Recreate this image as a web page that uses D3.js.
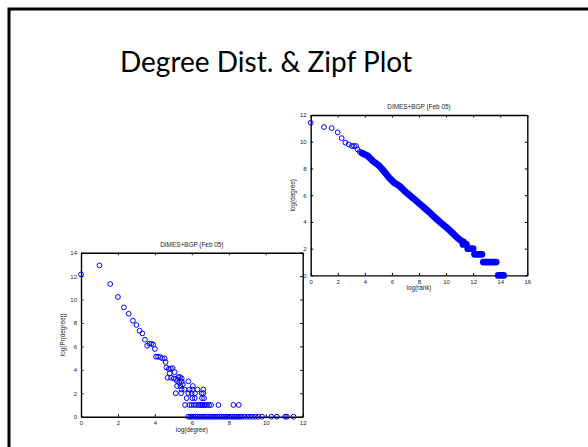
<!DOCTYPE html>
<meta charset="utf-8">
<title>Degree Dist. &amp; Zipf Plot</title>
<style>
  body { margin: 0; background: #fff; }
  .tick text, .lab { font-family: Arial, "Liberation Sans", sans-serif; fill: #222; }
</style>
<div id="viz"></div>
<script src="https://cdnjs.cloudflare.com/ajax/libs/d3/7.8.5/d3.min.js"></script>
<script>

var width = 588;
var height = 447;

// left plot: degree distribution (log values)
var degX = [0, 1.0, 1.58, 2.0, 2.32, 2.58, 2.81, 3.0, 3.17, 3.32, 3.46, 3.58, 3.70, 3.81, 3.91, 4.0,
  4.06, 4.17, 4.30, 4.40, 4.53, 4.58, 4.62, 4.75, 4.86, 4.96, 4.80, 5.07,
  4.69, 4.87, 5.02, 5.14, 5.27, 5.36, 5.45, 5.20, 5.32, 5.45, 5.20, 5.38, 5.51, 5.81, 6.05,
  5.45, 5.60, 5.87, 6.03, 6.30, 6.62,
  5.13, 5.42, 5.81, 5.99, 6.17, 6.53, 6.62,
  5.72, 6.03, 6.16, 6.55, 6.66,
  5.63, 5.87, 5.99, 6.12, 6.22, 6.35, 6.44, 6.52, 6.59, 6.67, 6.71, 6.81, 6.93, 7.04, 7.44, 8.25, 8.54,
  5.8, 5.92, 6.0, 6.1, 6.2, 6.3, 6.4, 6.5, 6.6, 6.7, 6.8, 6.9, 7.0, 7.1, 7.2, 7.3, 7.4, 7.5,
  7.6, 7.7, 7.8, 7.9, 8.0, 8.1, 8.2, 8.3, 8.4, 8.5, 8.6, 8.7, 8.85, 9.0, 9.15, 9.3, 9.45,
  9.6, 9.8, 10.3, 10.6, 11.05, 11.15, 11.5];
var degY = [12.15, 12.92, 11.33, 10.22, 9.33, 8.79, 8.2, 7.83, 7.34, 7.11, 6.57, 6.06, 6.23, 6.23, 6.15, 5.78,
  5.12, 5.12, 5.09, 4.98, 4.98, 4.67, 4.21, 4.07, 4.10, 4.15, 3.70, 3.81,
  3.33, 3.33, 3.27, 3.22, 3.39, 3.39, 3.27, 3.05, 2.90, 2.99, 2.62, 2.62, 2.76, 3.02, 2.62,
  2.32, 2.32, 2.32, 2.32, 2.32, 2.32,
  2.0, 2.0, 2.0, 2.0, 2.0, 2.0, 2.0,
  1.58, 1.58, 1.58, 1.58, 1.58,
  1, 1, 1, 1, 1, 1, 1, 1, 1, 1, 1, 1, 1, 1, 1, 1, 1,
  0, 0, 0, 0, 0, 0, 0, 0, 0, 0, 0, 0, 0, 0, 0, 0, 0, 0,
  0, 0, 0, 0, 0, 0, 0, 0, 0, 0, 0, 0, 0, 0, 0, 0, 0,
  0, 0, 0, 0, 0, 0, 0];

// right plot: zipf plot, sparse head
var rankX = [0, 0.98, 1.55, 1.99, 2.29, 2.56, 2.81, 3.05, 3.2, 3.35, 3.47, 3.62, 3.75, 3.85, 3.95];
var rankY = [11.42, 11.1, 11.02, 10.7, 10.27, 9.93, 9.8, 9.68, 9.68, 9.68, 9.42, 9.25, 9.15, 9.12, 9.1];
// dense run where the markers merge
var bandX = [3.8, 4.0, 4.2, 4.4, 4.6, 4.8, 5.0, 5.2, 5.4, 5.6, 5.8, 6.0, 6.2, 6.4, 6.6, 6.8, 7.0,
  7.3, 7.6, 8.0, 8.4, 8.8, 9.2, 9.6, 10.0, 10.4, 10.8, 11.1, 11.3];
var bandY = [9.15, 9.05, 8.95, 8.75, 8.55, 8.4, 8.25, 8.05, 7.8, 7.55, 7.3, 7.1, 6.9, 6.8, 6.65, 6.45, 6.25,
  6.0, 5.75, 5.4, 5.05, 4.7, 4.3, 3.95, 3.62, 3.25, 2.85, 2.6, 2.5];
// flat runs at the lowest degrees
var stepY = [2.32, 2, 1.58, 1, 0];
var stepFrom = [11.25, 11.6, 12.1, 12.75, 13.85];
var stepTo = [11.5, 12.0, 12.65, 13.7, 14.25];

var degTicksX = [0, 2, 4, 6, 8, 10, 12];
var degTicksY = [0, 2, 4, 6, 8, 10, 12, 14];
var zipfTicksX = [0, 2, 4, 6, 8, 10, 12, 14, 16];
var zipfTicksY = [0, 2, 4, 6, 8, 10, 12];

var blue = "#0000ff";

var svg = d3.select("#viz")
  .append("svg")
  .attr("width", width)
  .attr("height", height);

// slide frame (right and bottom edges are off the picture)
svg.append("path")
  .attr("d", "M9 447 V9 H588")
  .attr("fill", "none")
  .attr("stroke", "#000")
  .attr("stroke-width", 3);

svg.append("text")
  .attr("x", 266)
  .attr("y", 72)
  .attr("text-anchor", "middle")
  .style("font-family", "Lato, 'Open Sans', sans-serif")
  .style("font-size", "28px")
  .text("Degree Dist. & Zipf Plot");

// matlab style box with inward ticks on all sides
function frame(box, xTicks, yTicks, title, xLabel, yLabel) {
  var x = d3.scaleLinear().domain([xTicks[0], xTicks[xTicks.length - 1]]).range([box.x0, box.x1]);
  var y = d3.scaleLinear().domain([yTicks[0], yTicks[yTicks.length - 1]]).range([box.y1, box.y0]);
  var g = svg.append("g");

  var axes = [
    [d3.axisBottom(x).tickValues(xTicks), "translate(0," + box.y1 + ")"],
    [d3.axisTop(x).tickValues(xTicks).tickFormat(""), "translate(0," + box.y0 + ")"],
    [d3.axisLeft(y).tickValues(yTicks), "translate(" + box.x0 + ",0)"],
    [d3.axisRight(y).tickValues(yTicks).tickFormat(""), "translate(" + box.x1 + ",0)"]
  ];
  axes.forEach(function(a) {
    var ax = g.append("g")
      .attr("transform", a[1])
      .call(a[0].tickSize(-2.5).tickSizeOuter(0).tickPadding(4));
    ax.select(".domain").attr("stroke-width", 1.4);
    ax.selectAll(".tick line").attr("stroke-width", 1);
    ax.selectAll(".tick text").style("font-size", "6px");
  });

  g.append("text").attr("class", "lab")
    .attr("x", (box.x0 + box.x1) / 2).attr("y", box.y0 - 6)
    .attr("text-anchor", "middle")
    .style("font-size", "6.4px")
    .text(title);
  g.append("text").attr("class", "lab")
    .attr("x", (box.x0 + box.x1) / 2).attr("y", box.y1 + 15)
    .attr("text-anchor", "middle")
    .style("font-size", "6.3px")
    .text(xLabel);
  g.append("text").attr("class", "lab")
    .attr("transform", "translate(" + (box.x0 - 16) + "," + ((box.y0 + box.y1) / 2) + ") rotate(-90)")
    .attr("text-anchor", "middle")
    .style("font-size", "6.3px")
    .text(yLabel);

  return { x: x, y: y, g: g };
}

var left = frame({ x0: 81, x1: 302.7, y0: 252.7, y1: 416.7 }, degTicksX, degTicksY,
  "DIMES+BGP (Feb 05)", "log(degree)", "log(Pr(degree))");

left.g.append("g").selectAll("circle")
  .data(degX)
  .join("circle")
  .attr("cx", function(d) { return left.x(d); })
  .attr("cy", function(d, i) { return left.y(degY[i]); })
  .attr("r", 2.4)
  .attr("fill", "none")
  .attr("stroke", blue)
  .attr("stroke-width", 1);

var right = frame({ x0: 310.7, x1: 527.3, y0: 115, y1: 275.4 }, zipfTicksX, zipfTicksY,
  "DIMES+BGP (Feb 05)", "log(rank)", "log(degree)");

var line = d3.line()
  .x(function(d) { return right.x(d[0]); })
  .y(function(d) { return right.y(d[1]); });

right.g.append("path")
  .attr("d", line(bandX.map(function(d, i) { return [d, bandY[i]]; })))
  .attr("fill", "none")
  .attr("stroke", blue)
  .attr("stroke-width", 6.8)
  .attr("stroke-linecap", "round")
  .attr("stroke-linejoin", "round");

right.g.append("g").selectAll("path")
  .data(stepY)
  .join("path")
  .attr("d", function(d, i) { return line([[stepFrom[i], d], [stepTo[i], d]]); })
  .attr("fill", "none")
  .attr("stroke", blue)
  .attr("stroke-width", 6.8)
  .attr("stroke-linecap", "round");

right.g.append("g").selectAll("circle")
  .data(rankX)
  .join("circle")
  .attr("cx", function(d) { return right.x(d); })
  .attr("cy", function(d, i) { return right.y(rankY[i]); })
  .attr("r", 2.4)
  .attr("fill", "none")
  .attr("stroke", blue)
  .attr("stroke-width", 1);

</script>
